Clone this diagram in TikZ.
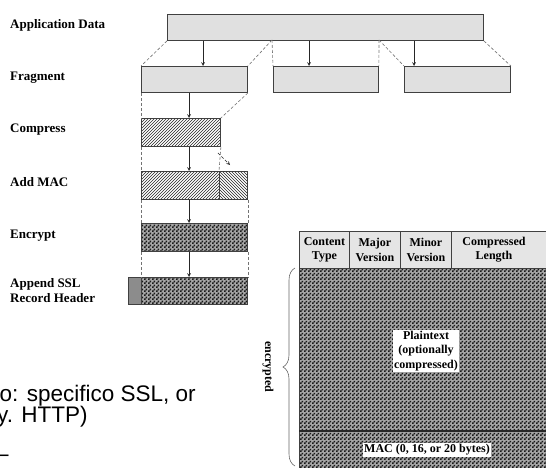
\documentclass[tikz,border=0pt]{standalone}
\usepackage{fontspec}
\setmainfont{Liberation Serif}
\newfontfamily\slidefont{Liberation Sans}
\usetikzlibrary{patterns,decorations.pathreplacing}

\pgfdeclarepatternformonly{finechecks}{\pgfqpoint{0pt}{0pt}}{\pgfqpoint{4pt}{4pt}}{\pgfqpoint{4pt}{4pt}}{
	\pgfpathrectangle{\pgfqpoint{0pt}{0pt}}{\pgfqpoint{2pt}{2pt}}
	\pgfpathrectangle{\pgfqpoint{2pt}{2pt}}{\pgfqpoint{2pt}{2pt}}
	\pgfusepath{fill}}

\tikzset{
	blk/.style={draw=black!75, line width=0.9pt, rectangle, inner sep=0pt, anchor=north west},
	plainblk/.style={blk, fill=black!12},
	hatchblk/.style={blk, pattern=north east lines, pattern color=black!85},
	macblk/.style={blk, pattern=north west lines, pattern color=black!85},
	checkblk/.style={blk, preaction={fill=black!35}, pattern=finechecks, pattern color=black!90},
	guide/.style={densely dashed, black!55, line width=0.6pt},
	flow/.style={-stealth, black!85, line width=0.7pt},
	lbl/.style={anchor=west, font=\fontsize{13}{15}\selectfont\bfseries, align=left, inner sep=0pt},
	cell/.style={blk, fill=black!10, font=\fontsize{12}{14.5}\selectfont\bfseries, align=center},
	tag/.style={fill=white, inner sep=1.5pt, font=\fontsize{12}{14.5}\selectfont\bfseries, align=center},
	slide/.style={anchor=base west, inner sep=0pt, font=\slidefont\fontsize{22.5}{25}\selectfont},
}

\begin{document}
\begin{tikzpicture}[x=1pt, y=-1pt]
	\useasboundingbox (0,0) rectangle (546,468);
	\clip (0,0) rectangle (546,468);
	% row labels
	\node[lbl] (lapp) at (10,25) {Application Data};
	\node[lbl] (lfrag) at (10,78) {Fragment};
	\node[lbl] (lcomp) at (10,130) {Compress};
	\node[lbl] (lmac) at (10,182) {Add MAC};
	\node[lbl] (lenc) at (10,236) {Encrypt};
	\node[lbl] (lhdr) at (10,291) {Append SSL\\Record Header};
	% data and fragments
	\node[plainblk, minimum width=316pt, minimum height=26pt] (app) at (167,14) {};
	\node[plainblk, minimum width=106pt, minimum height=26pt] (frag1) at (141,66) {};
	\node[plainblk, minimum width=105pt, minimum height=26pt] (frag2) at (273,66) {};
	\node[plainblk, minimum width=106pt, minimum height=26pt] (frag3) at (404,66) {};
	\coordinate (split1) at (272,40);
	\coordinate (split2) at (379,40);
	\draw[guide] (app.south west) -- (frag1.north west);
	\draw[guide] (split1) -- (frag1.north east);
	\draw[guide] (split1) -- (frag2.north west);
	\draw[guide] (split2) -- (frag2.north east);
	\draw[guide] (split2) -- (frag3.north west);
	\draw[guide] (app.south east) -- (frag3.north east);
	\coordinate (a1) at (203,0);
	\coordinate (a2) at (309,0);
	\coordinate (a3) at (414,0);
	\draw[flow] (app.south -| a1) -- (frag1.north -| a1);
	\draw[flow] (app.south -| a2) -- (frag2.north -| a2);
	\draw[flow] (app.south -| a3) -- (frag3.north -| a3);
	% one fragment down the steps
	\node[hatchblk, minimum width=79pt, minimum height=28pt] (comp) at (141,118) {};
	\node[hatchblk, minimum width=78pt, minimum height=28pt] (macdata) at (141,171) {};
	\node[macblk, minimum width=28pt, minimum height=28pt] (macval) at (219,171) {};
	\node[checkblk, minimum width=106pt, minimum height=28pt] (enc) at (141,223) {};
	\node[blk, fill=black!45, minimum width=13pt, minimum height=27pt] (hdr) at (128,277) {};
	\node[checkblk, minimum width=106pt, minimum height=27pt] (rec) at (141,277) {};
	\draw[guide] (frag1.south west) -- (comp.north west);
	\draw[guide] (frag1.south east) -- (comp.north east);
	\draw[guide] (comp.south west) -- (macdata.north west);
	\draw[guide] (comp.south east) -- (macval.north west);
	\draw[guide] (macdata.south west) -- (enc.north west);
	\draw[guide] (macval.south east) -- (enc.north east);
	\draw[guide] (enc.south west) -- (rec.north west);
	\draw[guide] (enc.south east) -- (rec.north east);
	\coordinate (ax) at (189,0);
	\draw[flow] (frag1.south -| ax) -- (comp.north -| ax);
	\draw[flow] (comp.south -| ax) -- (macdata.north -| ax);
	\draw[flow, densely dashed] ([shift={(-3,6)}]comp.south east) -- ([shift={(11,-6)}]macval.north west);
	\draw[flow] (macdata.south -| ax) -- (enc.north -| ax);
	\draw[flow] (enc.south -| ax) -- (rec.north -| ax);
	% record format
	\node[cell, minimum width=50pt, minimum height=37pt] (ctype) at (299,231) {Content\\Type};
	\node[cell, minimum width=51pt, minimum height=37pt] (major) at (349,231) {Major\\Version};
	\node[cell, minimum width=51pt, minimum height=37pt] (minor) at (400,231) {Minor\\Version};
	\node[cell, minimum width=110pt, minimum height=37pt] (clen) at (451,231) {};
	\node[font=\fontsize{12}{14.5}\selectfont\bfseries, align=center] (clentxt) at (494,249.5) {Compressed\\Length};
	\node[checkblk, minimum width=270pt, minimum height=215pt] (body) at (299,268) {};
	\coordinate (macline) at (0,431);
	\draw[line width=1.6pt, black!85] (body.west |- macline) -- (body.east |- macline);
	\node[tag] (ptxt) at (426,351) {Plaintext\\(optionally\\compressed)};
	\node[tag] (mtxt) at (427,450) {MAC (0, 16, or 20 bytes)};
	\coordinate (btop) at (295,268);
	\coordinate (bbot) at (295,466);
	\draw[decorate, decoration={brace, amplitude=12pt}, black!60, line width=0.6pt] (bbot) -- (btop);
	\node[rotate=-90, font=\fontsize{12}{14}\selectfont\bfseries] (enclbl) at (268,367) {encrypted};
	% slide text
	\node[slide] (s1) at (-0.5,401) {o: specifico SSL, or};
	\node[slide] (s2) at (-3,422) {y. HTTP)};
	\node[slide] (s3) at (-4,461) {–};
\end{tikzpicture}
\end{document}
